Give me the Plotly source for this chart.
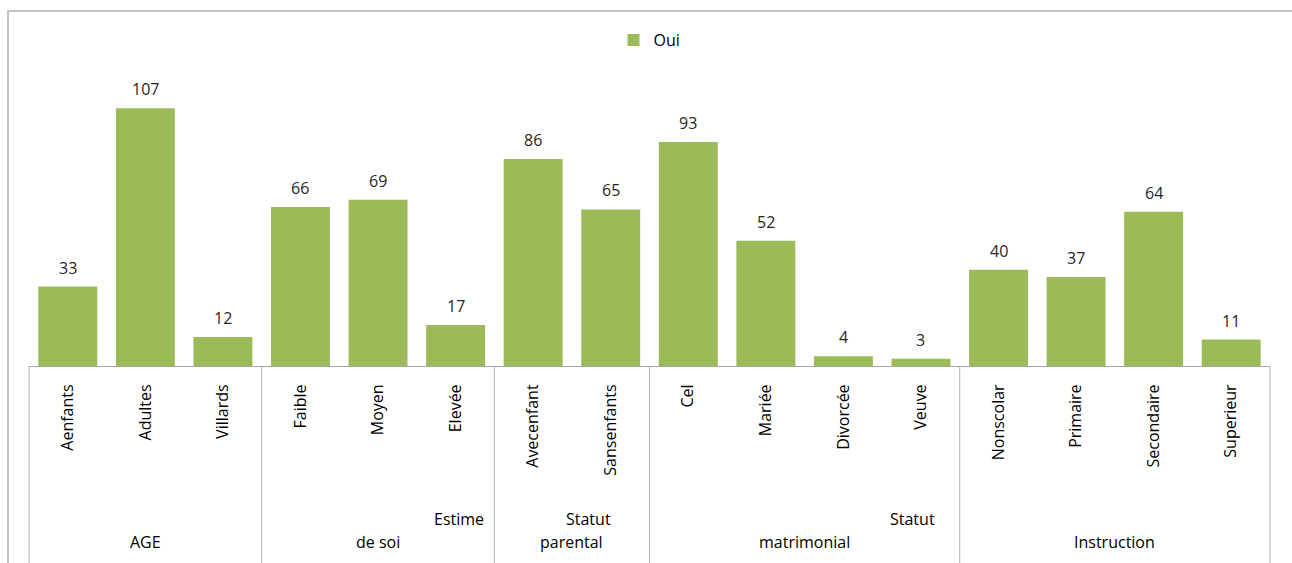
import plotly.graph_objects as go

categories = ["Aenfants", "Adultes", "Villards", "Faible", "Moyen", "Elevée",
              "Avecenfant", "Sansenfants", "Cel", "Mariée", "Divorcée", "Veuve",
              "Nonscolar", "Primaire", "Secondaire", "Superieur"]
oui = [33, 107, 12, 66, 69, 17, 86, 65, 93, 52, 4, 3, 40, 37, 64, 11]
group_line1 = ["", "Estime", "Statut", "Statut", ""]
group_line2 = ["AGE", "de soi", "parental", "matrimonial", "Instruction"]
group_sizes = [3, 3, 2, 4, 4]

W, H = 1292, 563
L, R, T, B = 29, 22, 77, 197
PW, PH = W - L - R, H - T - B
FONT = "Open Sans"
n = len(categories)


def xp(px):
    return (px - L) / PW


def yp(py):
    return (H - B - py) / PH


def cat_paper(pos):
    # category index position -> paper fraction with range [-0.5, n-0.5]
    return (pos + 0.5) / n


fig = go.Figure()
fig.add_trace(go.Bar(x=list(range(n)), y=oui, name="Oui",
                     marker=dict(color="#9BBB59", line=dict(width=0)),
                     showlegend=True))

annotations = []
for i, v in enumerate(oui):
    annotations.append(dict(x=i, y=v, xref="x", yref="y", text=str(v),
                            showarrow=False, yanchor="bottom", yshift=6,
                            font=dict(family=FONT, size=16, color="#262626")))

shapes = []
# border
shapes.append(dict(type="rect", xref="paper", yref="paper",
                   x0=xp(8), x1=xp(1320), y0=yp(600), y1=yp(11),
                   line=dict(color="#C4C4C4", width=2), layer="below"))
# group separators
start = 0
bounds = [0]
for s in group_sizes:
    start += s
    bounds.append(start)
for b in bounds:
    xx = cat_paper(b - 0.5)
    shapes.append(dict(type="line", xref="paper", yref="paper",
                       x0=xx, x1=xx, y0=0, y1=yp(H + 5),
                       line=dict(color="#B3B3B3", width=1)))

line1_right_px = [None, 486, 613, 937, None]
for g in range(len(group_sizes)):
    c = (bounds[g] + bounds[g + 1] - 1) / 2
    annotations.append(dict(x=cat_paper(c), y=yp(542), xref="paper", yref="paper",
                            text=group_line2[g], showarrow=False,
                            xanchor="center", yanchor="middle",
                            font=dict(family=FONT, size=16, color="#000000")))
    if group_line1[g]:
        annotations.append(dict(x=xp(line1_right_px[g]), y=yp(519), xref="paper",
                                yref="paper", text=group_line1[g], showarrow=False,
                                xanchor="right", yanchor="middle",
                                font=dict(family=FONT, size=16, color="#000000")))

fig.update_layout(
    width=W, height=H,
    margin=dict(l=L, r=R, t=T, b=B),
    paper_bgcolor="white", plot_bgcolor="white",
    bargap=0.24,
    font=dict(family=FONT, size=16, color="#000000"),
    xaxis=dict(range=[-0.5, n - 0.5], tickmode="array",
               tickvals=list(range(n)), ticktext=categories,
               tickangle=-90, showgrid=False, zeroline=False,
               showline=True, linecolor="#A6A6A6", linewidth=1,
               ticks="", ticklabelstandoff=11,
               tickfont=dict(family=FONT, size=16, color="#000000")),
    yaxis=dict(range=[0, 120], visible=False, showgrid=False, zeroline=False),
    legend=dict(orientation="h", x=0.5, xanchor="center", y=yp(40),
                yanchor="middle", font=dict(family=FONT, size=16, color="#000000"),
                bgcolor="rgba(0,0,0,0)"),
    shapes=shapes,
    annotations=annotations,
)

fig.write_html("out.html")
